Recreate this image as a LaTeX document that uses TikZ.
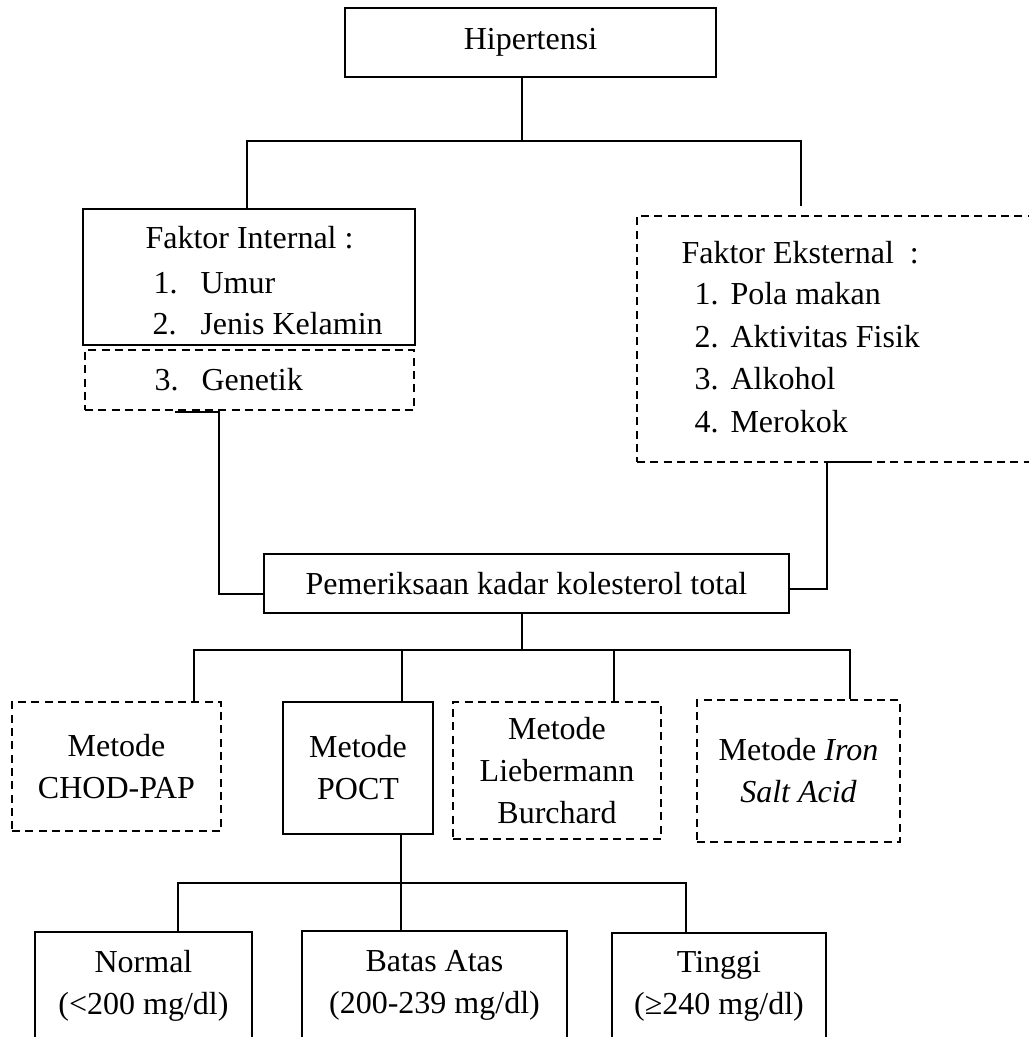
\documentclass[tikz,border=0pt]{standalone}
\usepackage{fontspec}
\setmainfont{Liberation Serif}
\usepackage{tikz}
\usetikzlibrary{calc}

\tikzset{
  box/.style={draw, line width=0.75pt, inner sep=0pt, align=center},
  dbox/.style={box, dash pattern=on 3pt off 2pt},
  conn/.style={line width=0.4pt},
  connb/.style={line width=0.55pt},
  lbl/.style={anchor=base west, inner sep=0pt},
}

\begin{document}
\begin{tikzpicture}[x=0.375pt,y=0.375pt,yscale=-1,
  every node/.append style={font=\fontsize{12}{15.75}\selectfont}]
%set diagram from (0,0) to (1029,1037)
\useasboundingbox (0,0) rectangle (1029,1037);

%Shape: Rectangle [id:hip]
\node[box, minimum width=139.1pt, minimum height=25.9pt] (hip) at (530.5,42.5) {Hipertensi};
%Shape: Rectangle [id:fi]
\node[box, minimum width=124.5pt, minimum height=51pt] (fi) at (249,277) {};
%Shape: Rectangle [id:gen]
\node[dbox, minimum width=123.4pt, minimum height=22.5pt] (gen) at (249.5,380) {};
%Shape: Rectangle [id:fe]
\node[dbox, minimum width=173.6pt, minimum height=92.25pt] (fe) at (868.5,339) {};
%Shape: Rectangle [id:pem]
\node[box, minimum width=196.9pt, minimum height=22.1pt] (pem) at (526.5,583.5) {Pemeriksaan kadar kolesterol total};

%Shape: Rectangle [id:chod]
\node[dbox, minimum width=78.4pt, minimum height=48.4pt] (chod) at (116.5,766.5) {Metode\\CHOD-PAP};
%Shape: Rectangle [id:poct]
\node[box, minimum width=56.25pt, minimum height=49.5pt] (poct) at (358,768) {Metode\\POCT};
%Shape: Rectangle [id:lieb]
\node[dbox, minimum width=78pt, minimum height=51.4pt] (lieb) at (557,770.5) {Metode\\Liebermann\\Burchard};
%Shape: Rectangle [id:iron]
\node[dbox, minimum width=76.1pt, minimum height=53.25pt] (iron) at (798.5,771) {Metode \textit{Iron}\\\textit{Salt Acid}};

%Shape: Rectangle [id:normal]
\node[box, minimum width=81.4pt, minimum height=40.5pt] (normal) at (143.5,986) {Normal\\(<200 mg/dl)};
%Shape: Rectangle [id:batas]
\node[box, minimum width=99.4pt, minimum height=40.9pt] (batas) at (434.5,985.5) {Batas Atas\\(200-239 mg/dl)};
%Shape: Rectangle [id:tinggi]
\node[box, minimum width=80.25pt, minimum height=40.1pt] (tinggi) at (719,986.5) {Tinggi\\(≥240 mg/dl)};

% Text Node
\node[lbl] (fiT) at (145,249) {Faktor Internal :};
\node[lbl] (fi1n) at (153,293) {1.};
\node[lbl] (fi1) at (200,293) {Umur};
\node[lbl] (fi2n) at (152,334) {2.};
\node[lbl] (fi2) at (200,334) {Jenis Kelamin};
\node[lbl] (fi3n) at (154,390) {3.};
\node[lbl] (fi3) at (201,390) {Genetik};
% Text Node
\node[lbl] (feT) at (681,263) {Faktor Eksternal\ \ :};
\node[lbl] (fe1n) at (694,305) {1.};
\node[lbl] (fe1) at (730,305) {Pola makan};
\node[lbl] (fe2n) at (694,347) {2.};
\node[lbl] (fe2) at (730,347) {Aktivitas Fisik};
\node[lbl] (fe3n) at (694,389) {3.};
\node[lbl] (fe3) at (730,389) {Alkohol};
\node[lbl] (fe4n) at (694,432) {4.};
\node[lbl] (fe4) at (730,432) {Merokok};

%Connectors: Hipertensi to factors
\coordinate (j1) at (522,141);
\coordinate (j1l) at (247,141);
\coordinate (j1r) at (801,141);
\coordinate (feTop) at (801,206);
\draw[conn] (hip.south -| j1) -- (j1);
\draw[conn] (fi.north -| j1l) -- (j1l) -- (j1r) -- (feTop);

%Connectors: factors to pemeriksaan
\coordinate (g1) at (175,412);
\coordinate (g2) at (219,594);
\draw[conn] (g1) -- (g1 -| g2) -- (g2) -- (g2 -| pem.west);
\coordinate (f1) at (865,462);
\coordinate (f2) at (827,589);
\draw[conn] (f1) -- (f1 -| f2) -- (f2) -- (f2 -| pem.east);

%Connectors: pemeriksaan to methods
\coordinate (m0) at (522,650);
\coordinate (ma) at (194,650);
\coordinate (mb) at (402,650);
\coordinate (mc) at (614,650);
\coordinate (md) at (850,650);
\draw[connb] (pem.south -| m0) -- (m0);
\draw[connb] (chod.north -| ma) -- (ma) -- (md) -- (iron.north -| md);
\draw[connb] (poct.north -| mb) -- (mb);
\draw[connb] (lieb.north -| mc) -- (mc);

%Connectors: POCT to results
\coordinate (ra) at (178,883);
\coordinate (rb) at (401,883);
\coordinate (rc) at (686,883);
\draw[connb] (poct.south -| rb) -- (batas.north -| rb);
\draw[connb] (normal.north -| ra) -- (ra) -- (rc) -- (tinggi.north -| rc);

\end{tikzpicture}
\end{document}
